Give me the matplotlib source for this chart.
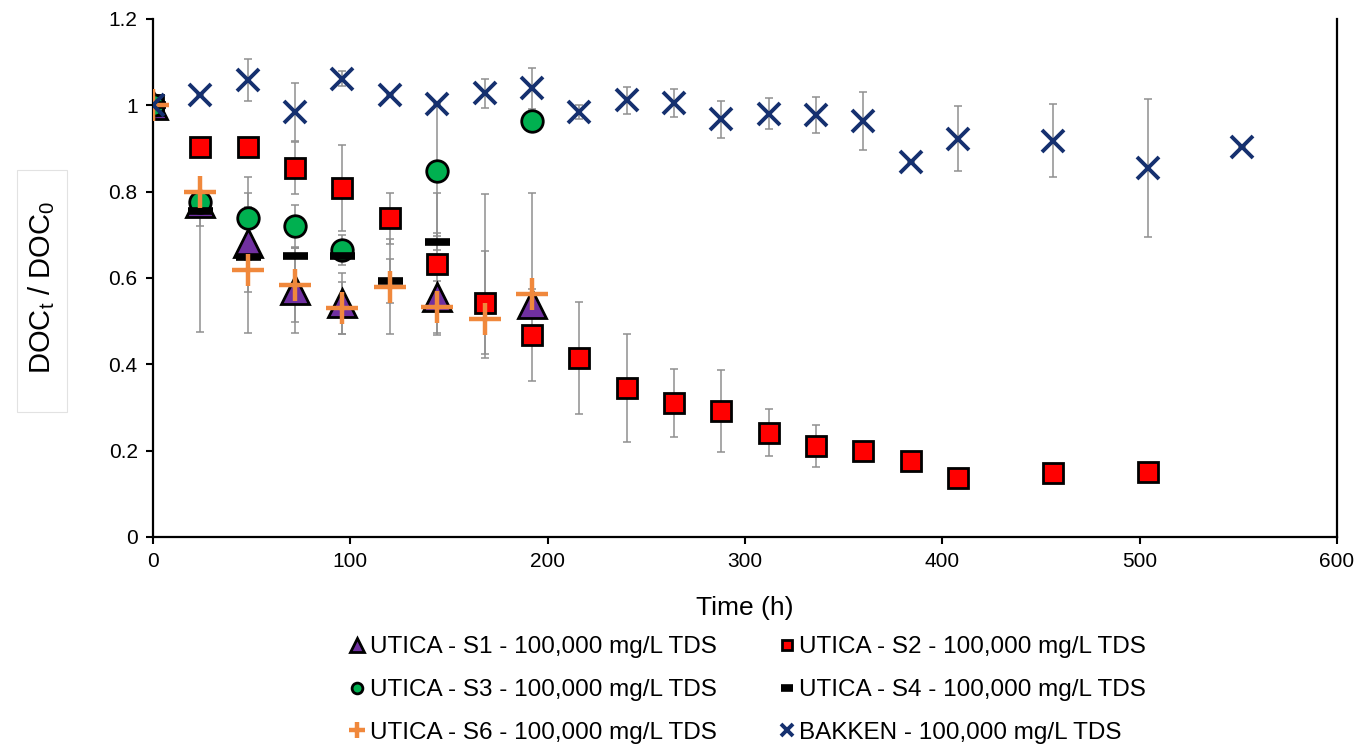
import numpy as np
import matplotlib
matplotlib.use('Agg')
import matplotlib.pyplot as plt
from matplotlib.patches import Rectangle
from matplotlib.ticker import FuncFormatter, MultipleLocator

plt.rcParams['font.family'] = ['Liberation Sans', 'DejaVu Sans']

# --- données ---
t_s1 = [0, 24, 48, 72, 96, 144, 192]
y_s1 = [1.0, 0.774, 0.682, 0.572, 0.541, 0.555, 0.540]
lo_s1 = [0, 0.30, 0.115, 0.10, 0.07, 0, 0]
hi_s1 = [0, 0, 0.115, 0.10, 0.07, 0, 0.256]

t_s2 = [0, 24, 48, 72, 96, 120, 144, 168, 192, 216, 240, 264, 288, 312, 336, 360, 384, 408, 456, 504]
y_s2 = [1.0, 0.904, 0.903, 0.854, 0.808, 0.738, 0.632, 0.543, 0.468, 0.415, 0.346, 0.310,
        0.292, 0.242, 0.211, 0.200, 0.176, 0.136, 0.148, 0.150]
err_s2 = [0, 0, 0, 0.06, 0.10, 0.06, 0.164, 0.12, 0.106, 0.13, 0.125, 0.079,
          0.095, 0.055, 0.049, 0, 0, 0, 0, 0]

t_s3 = [0, 24, 48, 72, 96, 144, 192]
y_s3 = [1.0, 0.777, 0.738, 0.720, 0.665, 0.848, 0.963]
err_s3 = [0, 0, 0.097, 0.05, 0.035, 0.15, 0]

t_s4 = [0, 24, 48, 72, 96, 120, 144]
y_s4 = [1.0, 0.755, 0.648, 0.652, 0.652, 0.593, 0.684]
err_s4 = [0, 0.035, 0, 0, 0, 0.05, 0.02]

t_s6 = [0, 24, 48, 72, 96, 120, 144, 168, 192]
y_s6 = [1.0, 0.800, 0.618, 0.584, 0.530, 0.580, 0.533, 0.504, 0.563]
lo_s6 = [0, 0, 0.146, 0.085, 0.06, 0.11, 0.06, 0.09, 0]
hi_s6 = [0, 0, 0.146, 0.085, 0.06, 0.11, 0.06, 0.29, 0]

t_bk = [0, 24, 48, 72, 96, 120, 144, 168, 192, 216, 240, 264, 288, 312, 336, 360, 384, 408, 456, 504, 552]
y_bk = [1.0, 1.024, 1.059, 0.985, 1.062, 1.024, 1.004, 1.028, 1.039, 0.985, 1.012, 1.005,
        0.968, 0.981, 0.978, 0.964, 0.869, 0.923, 0.918, 0.854, 0.904]
err_bk = [0, 0, 0.048, 0.067, 0.017, 0, 0, 0.034, 0.047, 0.016, 0.031, 0.033,
          0.043, 0.035, 0.042, 0.068, 0, 0.075, 0.084, 0.16, 0]

labels = ['UTICA - S1 - 100,000 mg/L TDS', 'UTICA - S2 - 100,000 mg/L TDS',
          'UTICA - S3 - 100,000 mg/L TDS', 'UTICA - S4 - 100,000 mg/L TDS',
          'UTICA - S6 - 100,000 mg/L TDS', 'BAKKEN - 100,000 mg/L TDS']

fig = plt.figure(figsize=(13.56, 7.47), dpi=100)
ax = fig.add_axes([153/1356, 1 - 537/747, (1337 - 153)/1356, (537 - 19)/747])

eb = dict(fmt='none', ecolor='#8f8f8f', elinewidth=1.1, capsize=3, capthick=1.1, zorder=1)
ax.errorbar(t_s1, y_s1, yerr=[lo_s1, hi_s1], **eb)
ax.errorbar(t_s2, y_s2, yerr=err_s2, **eb)
ax.errorbar(t_s3, y_s3, yerr=err_s3, **eb)
ax.errorbar(t_s4, y_s4, yerr=err_s4, **eb)
ax.errorbar(t_s6, y_s6, yerr=[lo_s6, hi_s6], **eb)
ax.errorbar(t_bk, y_bk, yerr=err_bk, **eb)

h1, = ax.plot(t_s1, y_s1, ls='none', marker='^', ms=20, mfc='#7030a0', mec='black', mew=2, zorder=3)
h2, = ax.plot(t_s2, y_s2, ls='none', marker='s', ms=14.5, mfc='#ff0000', mec='black', mew=2, zorder=3)
h3, = ax.plot(t_s3, y_s3, ls='none', marker='o', ms=15.5, mfc='#00b050', mec='black', mew=2, zorder=3)
h4, = ax.plot(t_s4, y_s4, ls='none', marker='_', ms=18, mec='black', mew=5.5, zorder=3)
h6, = ax.plot(t_s6, y_s6, ls='none', marker='+', ms=23, mec='#f0883c', mew=3.2, zorder=3)
hb, = ax.plot(t_bk, y_bk, ls='none', marker='x', ms=16, mec='#15306f', mew=2.8, zorder=3)

ax.set_xlim(0, 600)
ax.set_ylim(0, 1.2)
ax.xaxis.set_major_locator(MultipleLocator(100))
ax.yaxis.set_major_locator(MultipleLocator(0.2))
ax.yaxis.set_major_formatter(FuncFormatter(lambda v, p: f'{v:g}'))
ax.tick_params(direction='out', length=5, width=1.5, labelsize=15, pad=6)
ax.spines['top'].set_visible(False)
for s in ['left', 'bottom', 'right']:
    ax.spines[s].set_linewidth(1.6)

ax.set_xlabel('Time (h)', fontsize=19, labelpad=18)

# cadre clair autour du titre de l'axe y
fig.patches.append(Rectangle((17/1356, 1 - 412/747), 50/1356, 242/747,
                             transform=fig.transFigure, facecolor='white',
                             edgecolor='#e2e2e2', lw=0.8, zorder=0))
fig.text(42/1356, 1 - 287/747, r'DOC$_\mathregular{t}$ / DOC$_\mathregular{0}$',
         rotation=90, fontsize=21, ha='center', va='center')

handles = [h1, h3, h6, h2, h4, hb]
leg_labels = [labels[0], labels[2], labels[4], labels[1], labels[3], labels[5]]
fig.legend(handles, leg_labels, loc='center', bbox_to_anchor=(748/1356, 1 - 690/747),
           ncol=2, frameon=False, fontsize=17.5, markerscale=0.5,
           handlelength=0.6, handletextpad=0.2, columnspacing=2.6, labelspacing=0.85)

fig.savefig('out.png', dpi=100)
